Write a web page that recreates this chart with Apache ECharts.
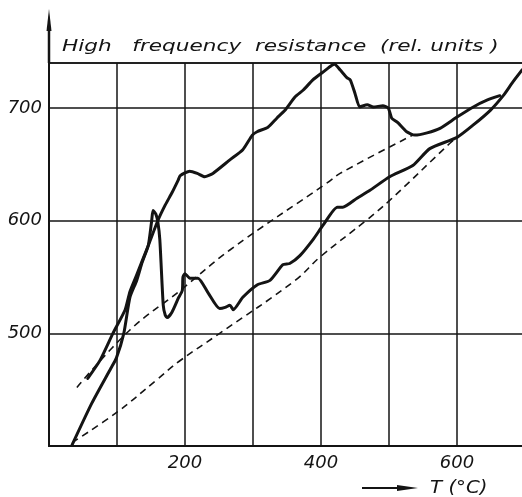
<!DOCTYPE html>
<html>
<head>
<meta charset="utf-8">
<script src="https://cdn.jsdelivr.net/npm/echarts@6/dist/echarts.min.js"></script>
<style>
html,body{margin:0;padding:0;background:#fff;}
#chart{width:522px;height:497px;}
</style>
</head>
<body>
<div id="chart"></div>
<script>
// Tick labels
const xTickLabels = [200, 400, 600];
const yTickLabels = [500, 600, 700];

// Curve A: lower start, sharp peak, lower middle branch (T in °C, R in rel. units)
const curveA_T = [34, 63, 91, 99, 110, 119, 129, 137, 146, 151, 153, 157, 160, 163, 168, 171, 174, 181, 190, 196, 197, 200, 207, 219, 234, 251, 259, 266, 271, 285, 306, 325, 344, 354, 369, 388, 403, 424, 432, 453, 472, 501, 535, 560, 600, 624, 649, 668, 682, 696];
const curveA_R = [401, 438, 469, 478, 500, 532, 547, 563, 578, 600, 609, 606, 599, 583, 525, 516, 514, 519, 531, 538, 550, 553, 549, 549, 536, 522, 523, 525, 521, 532, 543, 547, 561, 562, 569, 583, 596, 612, 612, 620, 627, 639, 649, 664, 674, 685, 698, 711, 723, 734];

// Curve B: upper start, top branch with broad maximum
const curveB_T = [57, 75, 94, 112, 119, 129, 146, 160, 171, 181, 190, 193, 207, 218, 229, 241, 266, 285, 299, 306, 322, 335, 347, 362, 374, 388, 403, 416, 420, 428, 438, 443, 450, 457, 468, 477, 491, 499, 504, 513, 526, 538, 556, 575, 600, 624, 644, 663];
const curveB_R = [460, 476, 500, 521, 537, 552, 578, 600, 614, 625, 636, 640, 644, 642, 639, 642, 654, 663, 676, 679, 683, 691, 698, 710, 716, 725, 732, 738, 739, 734, 727, 725, 713, 701, 703, 701, 702, 700, 691, 687, 679, 676, 678, 682, 692, 701, 707, 711];

// Dashed curve 1 (upper)
const dash1_T = [41, 119, 193, 266, 410, 428, 535];
const dash1_R = [452, 503, 538, 574, 634, 642, 676];

// Dashed curve 2 (lower)
const dash2_T = [34, 100, 159, 191, 251, 362, 399, 468, 501, 590, 600];
const dash2_R = [403, 430, 459, 475, 500, 547, 568, 601, 618, 669, 674];

const zip = (a, b) => a.map((v, i) => [v, b[i]]);
const INK = '#141414';
const FONT = "'DejaVu Sans', sans-serif";

const chart = echarts.init(document.getElementById('chart'), null, {renderer: 'canvas'});
chart.setOption({
  backgroundColor: '#ffffff',
  animation: false,
  grid: {
    left: 49, top: 63, width: 476, height: 383,
    outerBoundsMode: 'none', containLabel: false,
    show: true, borderColor: INK, borderWidth: 1.5, backgroundColor: 'transparent'
  },
  xAxis: {
    type: 'value', min: 0, max: 700, interval: 100,
    axisLine: {show: true, lineStyle: {color: INK, width: 2}},
    axisTick: {show: false},
    splitLine: {show: true, lineStyle: {color: INK, width: 1.5}},
    axisLabel: {
      margin: 8, fontFamily: FONT, fontStyle: 'italic', fontSize: 18, color: INK,
      formatter: v => xTickLabels.includes(v) ? String(v) : ''
    }
  },
  yAxis: {
    type: 'value', min: 400, max: 740, interval: 100,
    axisLine: {show: true, lineStyle: {color: INK, width: 2}},
    axisTick: {show: false},
    splitLine: {show: true, lineStyle: {color: INK, width: 1.5}},
    axisLabel: {
      margin: 7, fontFamily: FONT, fontStyle: 'italic', fontSize: 18, color: INK,
      formatter: v => yTickLabels.includes(v) ? String(v) : ''
    }
  },
  series: [
    {type: 'line', data: zip(curveA_T, curveA_R), showSymbol: false, smooth: 0.2,
     lineStyle: {color: INK, width: 3, join: 'round', cap: 'round'}},
    {type: 'line', data: zip(curveB_T, curveB_R), showSymbol: false, smooth: 0.2,
     lineStyle: {color: INK, width: 3, join: 'round', cap: 'round'}},
    {type: 'line', data: zip(dash1_T, dash1_R), showSymbol: false, smooth: 0.4,
     lineStyle: {color: INK, width: 1.6, type: [7, 5]}},
    {type: 'line', data: zip(dash2_T, dash2_R), showSymbol: false, smooth: 0.4,
     lineStyle: {color: INK, width: 1.6, type: [7, 5]}}
  ],
  graphic: [
    // title, horizontally stretched like the original lettering
    {type: 'text', x: 62, y: 47, scaleX: 1.31, scaleY: 1,
     style: {text: 'High   frequency  resistance  (rel. units )', font: "italic 16.5px 'DejaVu Sans', sans-serif",
             fill: INK, verticalAlign: 'middle', align: 'left'}},
    // vertical axis arrow above the plot
    {type: 'line', shape: {x1: 49, y1: 63, x2: 49, y2: 28}, style: {stroke: INK, lineWidth: 2.5}},
    {type: 'polygon', shape: {points: [[49, 9], [46.5, 31], [51.5, 31]]}, style: {fill: INK}},
    // horizontal arrow before the T label
    {type: 'line', shape: {x1: 362, y1: 488, x2: 400, y2: 488}, style: {stroke: INK, lineWidth: 2}},
    {type: 'polygon', shape: {points: [[418, 488], [397, 485], [397, 491]]}, style: {fill: INK}},
    {type: 'text', x: 430, y: 488, scaleX: 1.1, scaleY: 1,
     style: {text: 'T (°C)', font: "italic 18px 'DejaVu Sans', sans-serif", fill: INK, verticalAlign: 'middle', align: 'left'}}
  ]
});
</script>
</body>
</html>
